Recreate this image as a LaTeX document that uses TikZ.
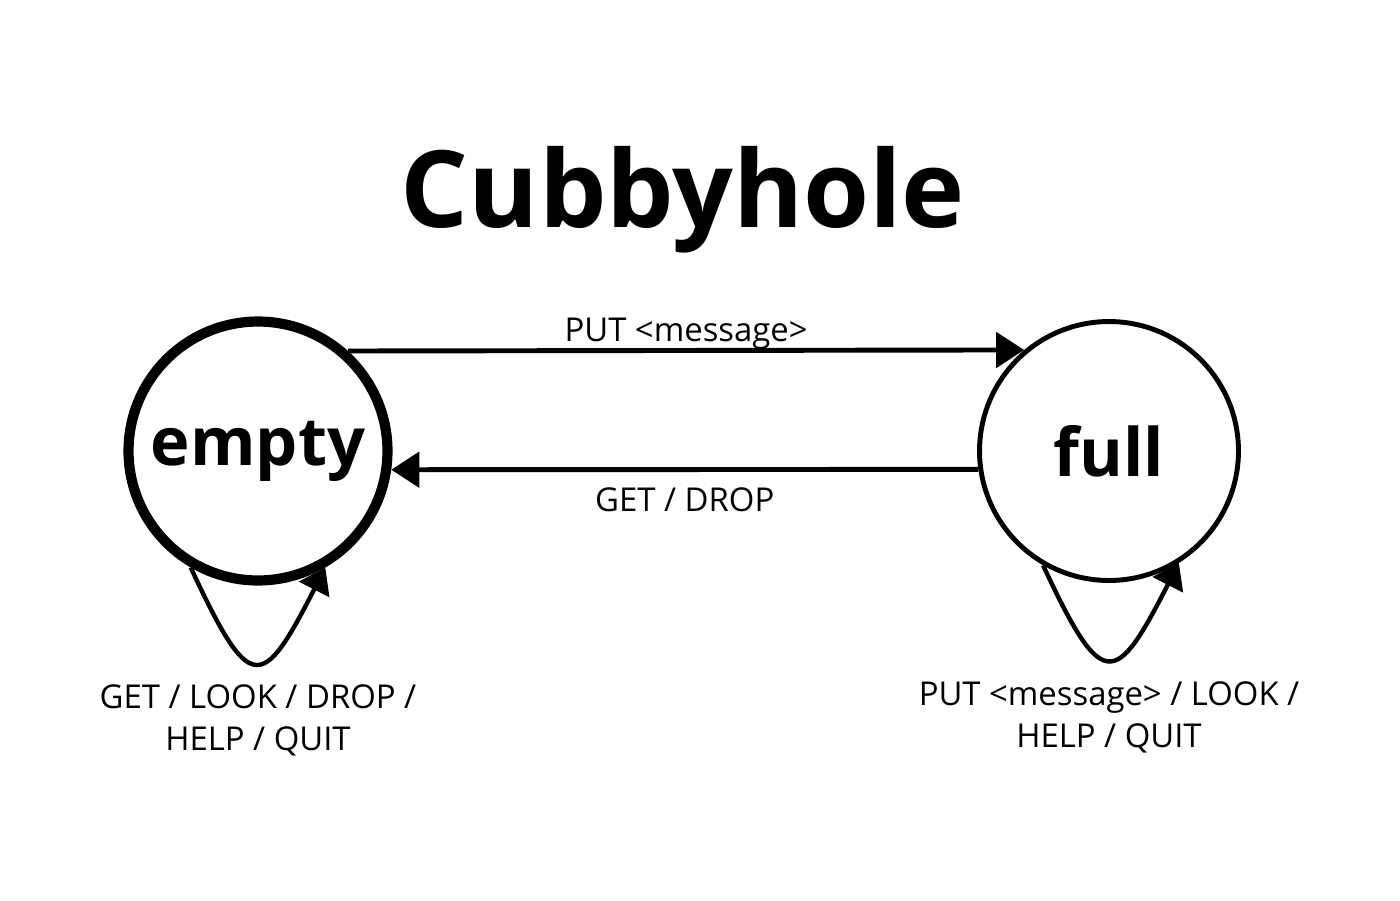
\documentclass[tikz,border=0pt]{standalone}
\usepackage{fontspec}
\setmainfont{Open Sans}
\usetikzlibrary{arrows.meta,positioning}

\begin{document}
\begin{tikzpicture}[x=0.02cm,y=-0.02cm,
    state/.style={circle,draw,minimum size=5.18cm,inner sep=0pt,font=\fontsize{38}{44}\selectfont\bfseries},
    trans/.style={line width=2.8pt,-{Triangle[length=16pt,width=20pt]}},
    selfloop/.style={line width=2.5pt,-{Triangle[length=14pt,width=19pt]}},
    lbl/.style={font=\fontsize{18.7}{24}\selectfont,inner sep=2pt,align=center}]
  \useasboundingbox (0,0) rectangle (1400,900);
  \node[font=\fontsize{60.8}{72}\selectfont\bfseries,anchor=base] (title) at (683,227) {Cubbyhole};
  \node[state,line width=5.8pt] (empty) at (258,451) {empty};
  \node[state,line width=2.8pt] (full) at (1109,451) {full};
  % transitions between the states
  \draw[trans] (empty.48.5) -- (full.130.5) node[lbl,midway,above=-2.5pt] {PUT <message>};
  \draw[trans] (full.188.3) -- (empty.-8.2) node[lbl,midway,below=7pt] {GET / DROP};
  % self loops
  \draw[selfloop] (empty.240) .. controls +(-65:80pt) and +(-117:80pt) .. (empty.300);
  \draw[selfloop] (full.240) .. controls +(-65:80pt) and +(-117:80pt) .. (full.302);
  \node[lbl,below=54pt of empty] (emptyops) {GET / LOOK / DROP /\\HELP / QUIT};
  \node[lbl,below=54pt of full] (fullops) {PUT <message> / LOOK /\\HELP / QUIT};
\end{tikzpicture}
\end{document}
